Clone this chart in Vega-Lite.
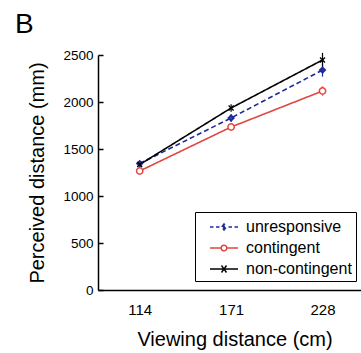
{
  "$schema": "https://vega.github.io/schema/vega-lite/v6.json",
  "width": 263,
  "height": 235,
  "autosize": {"type": "none"},
  "padding": {"left": 98, "top": 55, "right": 0, "bottom": 63},
  "title": {"text": "B", "anchor": "start", "frame": "group", "fontSize": 28, "font": "Liberation Sans", "fontWeight": "normal", "color": "black", "dx": -83, "dy": -5},
  "config": {
    "view": {"stroke": null},
    "font": "Liberation Sans",
    "axis": {"grid": false, "domainColor": "black", "tickColor": "black", "labelColor": "black", "titleColor": "black", "labelFont": "Liberation Sans", "titleFont": "Liberation Sans", "titleFontWeight": "normal", "domainWidth": 1.5}
  },
  "data": {
    "values": [
      {"series": "unresponsive", "x": 114, "y": 1345, "lo": 1315, "hi": 1375},
      {"series": "unresponsive", "x": 171, "y": 1830, "lo": 1790, "hi": 1870},
      {"series": "unresponsive", "x": 228, "y": 2340, "lo": 2270, "hi": 2410},
      {"series": "contingent", "x": 114, "y": 1266, "lo": 1236, "hi": 1296},
      {"series": "contingent", "x": 171, "y": 1734, "lo": 1700, "hi": 1768},
      {"series": "contingent", "x": 228, "y": 2117, "lo": 2067, "hi": 2167},
      {"series": "non-contingent", "x": 114, "y": 1335, "lo": 1305, "hi": 1365},
      {"series": "non-contingent", "x": 171, "y": 1936, "lo": 1896, "hi": 1976},
      {"series": "non-contingent", "x": 228, "y": 2447, "lo": 2372, "hi": 2522}
    ]
  },
  "encoding": {
    "x": {"field": "x", "type": "quantitative", "scale": {"domain": [88, 252], "nice": false, "zero": false},
      "axis": {"values": [114, 171, 228], "ticks": false, "labelFontSize": 15, "labelPadding": 12, "title": "Viewing distance (cm)", "titleFontSize": 20, "titlePadding": 12, "titleX": 136.5}},
    "color": {"field": "series", "type": "nominal", "scale": {"domain": ["unresponsive", "contingent", "non-contingent"], "range": ["#1c2a9c", "#e0463f", "#000000"]},
      "legend": {"orient": "none", "legendX": 97, "legendY": 157, "title": null, "symbolSize": 400, "symbolOffset": 14, "labelFontSize": 16, "labelFont": "Liberation Sans", "labelColor": "black", "strokeColor": "black", "fillColor": "white", "padding": 4, "rowPadding": 2, "symbolStrokeWidth": 1.5, "symbolOpacity": 1, "symbolFillColor": "white", "labelOffset": 11}}
  },
  "layer": [
    {
      "mark": {"type": "rule", "strokeWidth": 1.2},
      "encoding": {
        "y": {"field": "lo", "type": "quantitative"},
        "y2": {"field": "hi"}
      }
    },
    {
      "mark": {"type": "line", "strokeWidth": 1.6},
      "encoding": {
        "y": {"field": "y", "type": "quantitative", "scale": {"domain": [0, 2500], "nice": false},
          "axis": {"values": [0, 500, 1000, 1500, 2000, 2500], "format": "d", "tickSize": -5, "tickWidth": 1.5, "labelPadding": 10, "labelFontSize": 13.5, "title": "Perceived distance (mm)", "titleFontSize": 20, "titlePadding": 15}},
        "strokeDash": {"field": "series", "type": "nominal", "scale": {"domain": ["unresponsive", "contingent", "non-contingent"], "range": [[5, 3], [1, 0], [1, 0]]}, "legend": null}
      }
    },
    {
      "transform": [{"filter": "datum.series == 'unresponsive'"}],
      "mark": {"type": "point", "shape": "diamond", "filled": false, "size": 22, "strokeWidth": 2.2, "opacity": 1},
      "encoding": {"y": {"field": "y", "type": "quantitative"}}
    },
    {
      "transform": [{"filter": "datum.series == 'contingent'"}],
      "mark": {"type": "point", "shape": "circle", "filled": false, "size": 40, "strokeWidth": 1.5, "opacity": 1, "fill": "white"},
      "encoding": {"y": {"field": "y", "type": "quantitative"}}
    },
    {
      "transform": [{"filter": "datum.series == 'non-contingent'"}],
      "mark": {"type": "point", "shape": "M-1,-1L1,1M-1,1L1,-1", "filled": false, "size": 25, "strokeWidth": 1.3, "opacity": 1},
      "encoding": {"y": {"field": "y", "type": "quantitative"}}
    },
    {
      "transform": [{"filter": "datum.x < 0"}],
      "mark": {"type": "point", "filled": false, "strokeWidth": 1.5},
      "encoding": {
        "y": {"field": "y", "type": "quantitative"},
        "shape": {"field": "series", "type": "nominal",
          "scale": {"domain": ["unresponsive", "contingent", "non-contingent"],
            "range": [
              "M-1.4,0H-1.05M-0.8,0H-0.45M-0.22,0L0,-0.3L0.22,0L0,0.3ZM-0.1,0H0.1M0,-0.15V0.15M0.45,0H0.8M1.05,0H1.4",
              "M-1.4,0H-0.28M0.28,0H1.4M-0.28,0A0.28,0.28 0 1,0 0.28,0A0.28,0.28 0 1,0 -0.28,0",
              "M-1.4,0H1.4M-0.25,-0.35L0.25,0.35M-0.25,0.35L0.25,-0.35"
            ]},
          "legend": {"orient": "none", "legendX": 97, "legendY": 157, "title": null, "symbolSize": 400, "symbolOffset": 14, "labelFontSize": 16, "labelFont": "Liberation Sans", "labelColor": "black", "strokeColor": "black", "fillColor": "white", "padding": 4, "rowPadding": 2, "symbolStrokeWidth": 1.5, "symbolOpacity": 1, "symbolFillColor": "white", "labelOffset": 11}
        }
      }
    }
  ]
}
